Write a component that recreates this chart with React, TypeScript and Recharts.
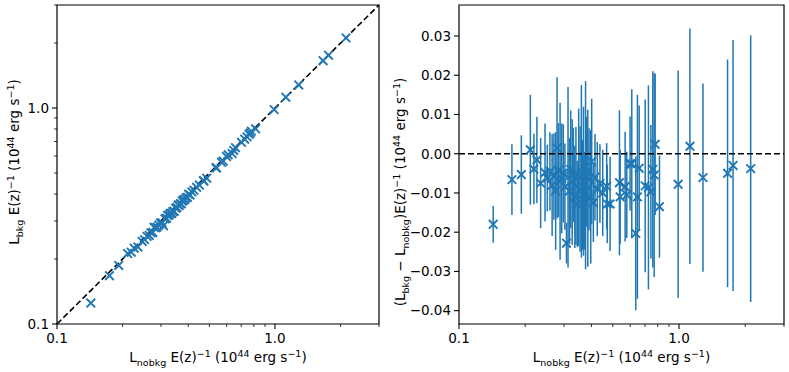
import React from "react";
import { ScatterChart, Scatter, XAxis, YAxis, ErrorBar, ReferenceLine, ReferenceArea, Label } from "recharts";

// L_nobkg E(z)^-1 (1e44 erg/s), the x value shared by both panels
const lNobkg = [
  0.143, 0.174, 0.192, 0.211, 0.219, 0.226, 0.235, 0.246, 0.252, 0.259,
  0.265, 0.27, 0.275, 0.279, 0.283, 0.288, 0.293, 0.298, 0.303, 0.308,
  0.313, 0.318, 0.322, 0.327, 0.331, 0.336, 0.34, 0.345, 0.35, 0.355,
  0.36, 0.364, 0.368, 0.372, 0.376, 0.38, 0.385, 0.39, 0.397, 0.401,
  0.408, 0.415, 0.425, 0.437, 0.45, 0.469, 0.472, 0.486, 0.536, 0.54,
  0.569, 0.579, 0.599, 0.61, 0.636, 0.647, 0.659, 0.702, 0.726, 0.745,
  0.76, 0.771, 0.779, 0.815, 0.991, 1.121, 1.285, 1.662, 1.76, 2.117,
];

// (L_bkg - L_nobkg) E(z)^-1
const lDiff = [
  -0.018, -0.0066, -0.0053, 0.001, -0.0039, -0.0016, -0.0075, -0.0048, -0.0062, -0.0045,
  -0.008, -0.0058, -0.0095, 0.0015, -0.0042, -0.007, -0.0063, -0.005, -0.0084, -0.0228,
  -0.006, -0.0095, -0.004, -0.0072, -0.0054, -0.011, -0.0082, -0.0128, -0.006, -0.009,
  -0.0045, -0.0105, -0.007, -0.012, -0.0055, -0.0046, -0.0088, -0.0065, -0.011, -0.002,
  -0.0125, -0.006, -0.009, -0.0076, -0.01, -0.0083, -0.0128, -0.0128, -0.0074, -0.011,
  -0.0084, -0.0105, -0.0025, -0.0026, -0.0203, -0.011, -0.0037, -0.0082, -0.0086, -0.0097,
  -0.004, -0.0054, 0.0024, -0.0135, -0.0078, 0.0019, -0.0061, -0.005, -0.003, -0.0038,
];

const lDiffErr = [
  0.0047, 0.009, 0.01, 0.014, 0.009, 0.011, 0.0115, 0.0125, 0.0085, 0.01,
  0.013, 0.011, 0.015, 0.018, 0.012, 0.02, 0.014, 0.0125, 0.011, 0.0052,
  0.023, 0.0135, 0.015, 0.016, 0.012, 0.013, 0.015, 0.011, 0.0175, 0.016,
  0.022, 0.014, 0.019, 0.0125, 0.024, 0.014, 0.02, 0.013, 0.017, 0.016,
  0.01, 0.011, 0.012, 0.01, 0.011, 0.011, 0.01, 0.012, 0.0185, 0.012,
  0.014, 0.011, 0.012, 0.019, 0.0196, 0.026, 0.016, 0.022, 0.026, 0.017,
  0.025, 0.026, 0.018, 0.013, 0.029, 0.03, 0.024, 0.029, 0.032, 0.034,
];

const logTicks = [0.1, 0.2, 0.3, 0.4, 0.5, 0.6, 0.7, 0.8, 0.9, 1, 2, 3];
const logMajor = [0.1, 1];
const resTicks = [-0.04, -0.03, -0.02, -0.01, 0, 0.01, 0.02, 0.03];

const LOG_MIN = 0.1;
const LOG_MAX = 3.0;
const RES_MIN = -0.0434;
const RES_MAX = 0.0379;

const BLUE = "#1f77b4";
const FONT = "DejaVu Sans";
const FS = 13.5;
const FS_SMALL = 9.5;

const leftData = lNobkg.map((x, i) => ({ x, y: x + lDiff[i] }));
const rightData = lNobkg.map((x, i) => ({ x, y: lDiff[i], err: lDiffErr[i] }));

const isMajor = (v: number) => logMajor.some((m) => Math.abs(m - v) < 1e-9);
const fmtRes = (v: number) => (v < -1e-9 ? "\u2212" : "") + Math.abs(v).toFixed(2);

const Cross = (props: any) => {
  const { cx, cy } = props;
  if (cx == null || cy == null) return null;
  const r = 4.3;
  return (
    <path
      d={`M${cx - r},${cy - r}L${cx + r},${cy + r}M${cx - r},${cy + r}L${cx + r},${cy - r}`}
      stroke={BLUE}
      strokeWidth={1.9}
      fill="none"
    />
  );
};

const BottomLogTick = ({ x, y, payload }: any) => {
  const major = isMajor(payload.value);
  return (
    <g>
      <line x1={x} x2={x} y1={y} y2={y + (major ? 5 : 3)} stroke="#000" strokeWidth={major ? 1.1 : 0.8} />
      {major && (
        <text x={x} y={y + 19} textAnchor="middle" fontSize={FS} fontFamily={FONT} fill="#000">
          {payload.value.toFixed(1)}
        </text>
      )}
    </g>
  );
};

const LeftLogTick = ({ x, y, payload }: any) => {
  const major = isMajor(payload.value);
  return (
    <g>
      <line x1={x} x2={x - (major ? 5 : 3)} y1={y} y2={y} stroke="#000" strokeWidth={major ? 1.1 : 0.8} />
      {major && (
        <text x={x - 8} y={y + 4.8} textAnchor="end" fontSize={FS} fontFamily={FONT} fill="#000">
          {payload.value.toFixed(1)}
        </text>
      )}
    </g>
  );
};

const LeftResTick = ({ x, y, payload }: any) => (
  <g>
    <line x1={x} x2={x - 5} y1={y} y2={y} stroke="#000" strokeWidth={1.1} />
    <text x={x - 8} y={y + 4.8} textAnchor="end" fontSize={FS} fontFamily={FONT} fill="#000">
      {fmtRes(payload.value)}
    </text>
  </g>
);

type Part = { t: string; s?: "sub" | "sup" };

const Title = ({ x, y, angle, parts }: { x: number; y: number; angle?: number; parts: Part[] }) => {
  let cur = 0;
  return (
    <text
      x={x}
      y={y}
      textAnchor="middle"
      transform={angle ? `rotate(${angle}, ${x}, ${y})` : undefined}
      fontSize={FS}
      fontFamily={FONT}
      fill="#000"
      style={{ whiteSpace: "pre" }}
    >
      {parts.map((p, i) => {
        const target = p.s === "sub" ? 4 : p.s === "sup" ? -5.5 : 0;
        const dy = target - cur;
        cur = target;
        return (
          <tspan key={i} dy={dy} fontSize={p.s ? FS_SMALL : FS}>
            {p.t}
          </tspan>
        );
      })}
    </text>
  );
};

const xTitle: Part[] = [
  { t: "L" }, { t: "nobkg", s: "sub" }, { t: " E(z)" }, { t: "\u22121", s: "sup" },
  { t: " (10" }, { t: "44", s: "sup" }, { t: " erg s" }, { t: "\u22121", s: "sup" }, { t: ")" },
];
const leftYTitle: Part[] = [
  { t: "L" }, { t: "bkg", s: "sub" }, { t: " E(z)" }, { t: "\u22121", s: "sup" },
  { t: " (10" }, { t: "44", s: "sup" }, { t: " erg s" }, { t: "\u22121", s: "sup" }, { t: ")" },
];
const rightYTitle: Part[] = [
  { t: "(L" }, { t: "bkg", s: "sub" }, { t: " \u2212 L" }, { t: "nobkg", s: "sub" }, { t: ")E(z)" },
  { t: "\u22121", s: "sup" }, { t: " (10" }, { t: "44", s: "sup" }, { t: " erg s" },
  { t: "\u22121", s: "sup" }, { t: ")" },
];

const LeftPanel = () => (
  <ScatterChart width={400} height={372} margin={{ top: 5, right: 21, bottom: 18, left: 17 }}>
    <XAxis
      type="number"
      dataKey="x"
      scale="log"
      domain={[LOG_MIN, LOG_MAX]}
      allowDataOverflow
      ticks={logTicks}
      interval={0}
      tickSize={0}
      tickMargin={0}
      tick={<BottomLogTick />}
      axisLine={false}
      height={30}
    >
      <Label content={() => <Title x={218} y={362} parts={xTitle} />} />
    </XAxis>
    <YAxis
      type="number"
      dataKey="y"
      scale="log"
      domain={[LOG_MIN, LOG_MAX]}
      allowDataOverflow
      ticks={logTicks}
      interval={0}
      tickSize={0}
      tickMargin={0}
      tick={<LeftLogTick />}
      axisLine={false}
      width={40}
    >
      <Label content={() => <Title x={19} y={162} angle={-90} parts={leftYTitle} />} />
    </YAxis>
    <ReferenceArea x1={LOG_MIN} x2={LOG_MAX} y1={LOG_MIN} y2={LOG_MAX} fill="none" stroke="#000" strokeWidth={1.2} />
    <Scatter data={leftData} shape={Cross} isAnimationActive={false} />
    <ReferenceLine
      segment={[{ x: LOG_MIN, y: LOG_MIN }, { x: LOG_MAX, y: LOG_MAX }]}
      stroke="#000"
      strokeWidth={1.6}
      strokeDasharray="6 3"
    />
  </ScatterChart>
);

const RightPanel = () => (
  <ScatterChart width={400} height={372} margin={{ top: 5, right: 5, bottom: 18, left: 20 }}>
    <XAxis
      type="number"
      dataKey="x"
      scale="log"
      domain={[LOG_MIN, LOG_MAX]}
      allowDataOverflow
      ticks={logTicks}
      interval={0}
      tickSize={0}
      tickMargin={0}
      tick={<BottomLogTick />}
      axisLine={false}
      height={30}
    >
      <Label content={() => <Title x={232.5} y={362} parts={xTitle} />} />
    </XAxis>
    <YAxis
      type="number"
      dataKey="y"
      domain={[RES_MIN, RES_MAX]}
      allowDataOverflow
      ticks={resTicks}
      interval={0}
      tickSize={0}
      tickMargin={0}
      tick={<LeftResTick />}
      axisLine={false}
      width={50}
    >
      <Label content={() => <Title x={16} y={192} angle={-90} parts={rightYTitle} />} />
    </YAxis>
    <ReferenceArea x1={LOG_MIN} x2={LOG_MAX} y1={RES_MIN} y2={RES_MAX} fill="none" stroke="#000" strokeWidth={1.2} />
    <Scatter data={rightData} shape={Cross} isAnimationActive={false}>
      <ErrorBar dataKey="err" direction="y" width={0} stroke={BLUE} strokeWidth={1.5} />
    </Scatter>
    <ReferenceLine y={0} stroke="#000" strokeWidth={1.6} strokeDasharray="6 3" />
  </ScatterChart>
);

export default function App() {
  return (
    <div style={{ position: "absolute", left: 0, top: 0, width: 789, height: 372, background: "#fff" }}>
      <div style={{ position: "absolute", left: 0, top: 0 }}>
        <LeftPanel />
      </div>
      <div style={{ position: "absolute", left: 389, top: 0 }}>
        <RightPanel />
      </div>
    </div>
  );
}
